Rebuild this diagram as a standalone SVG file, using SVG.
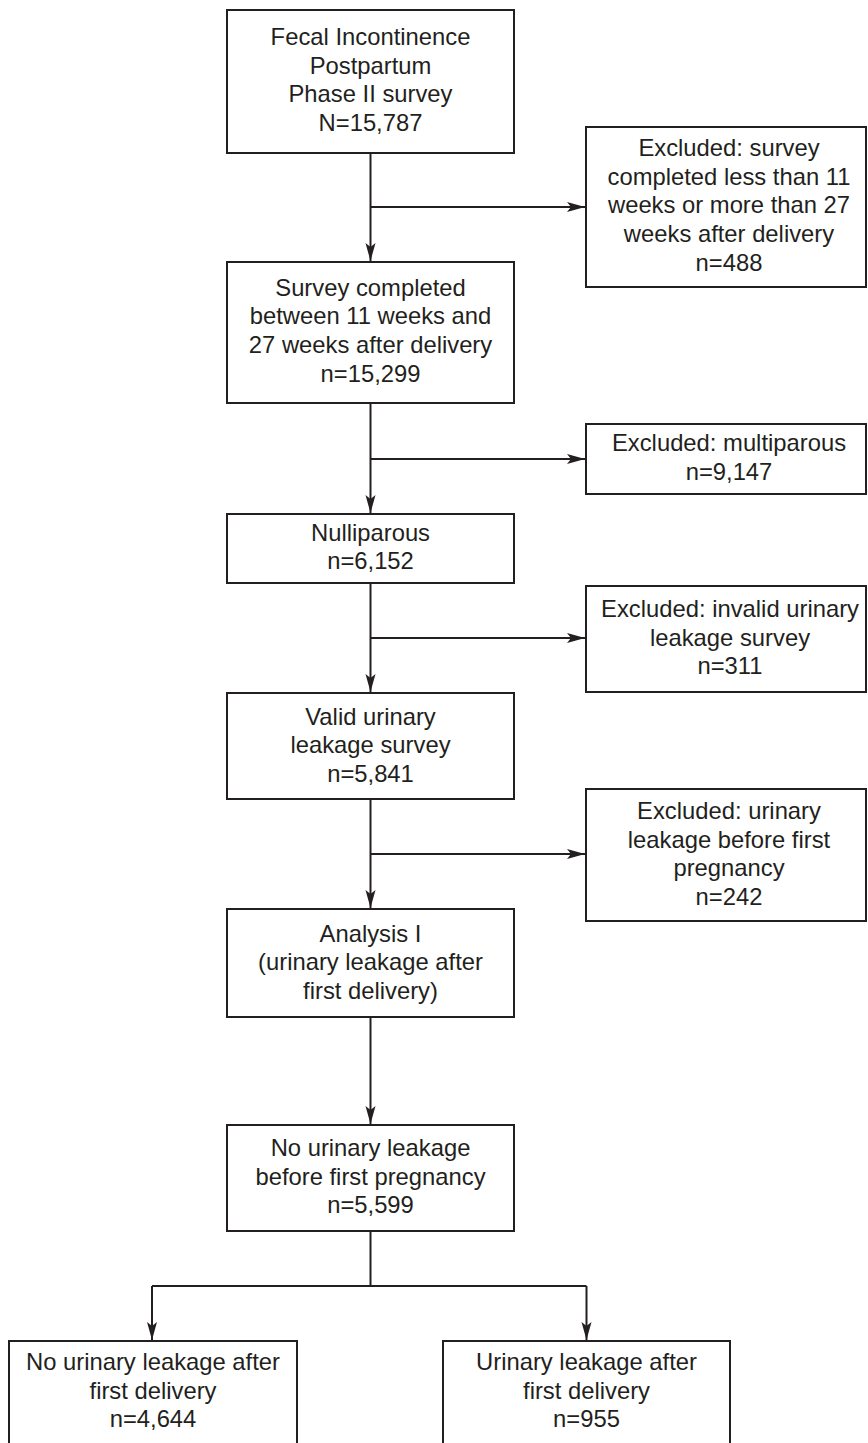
<svg xmlns="http://www.w3.org/2000/svg" width="868" height="1443" viewBox="0 0 868 1443">
<style>
.box{fill:#fff;stroke:#231f20;stroke-width:2}
.t{font-family:"Liberation Sans",Arial,sans-serif;font-size:23.8px;fill:#231f20;text-anchor:middle}
.c{fill:none;stroke:#231f20;stroke-width:2}
</style>
<defs>
<marker id="ah" markerUnits="userSpaceOnUse" markerWidth="20" markerHeight="12" refX="18" refY="5" orient="auto">
<path d="M0,0 L18,5 L0,10 L4,5 z" fill="#231f20"/>
</marker>
</defs>
<rect width="868" height="1443" fill="#fff"/>
<g id="connectors">
<path class="c" d="M370.5,153 V261" marker-end="url(#ah)"/>
<path class="c" d="M370.5,207 H585" marker-end="url(#ah)"/>
<path class="c" d="M370.5,403 V513" marker-end="url(#ah)"/>
<path class="c" d="M370.5,459 H585" marker-end="url(#ah)"/>
<path class="c" d="M370.5,583 V692" marker-end="url(#ah)"/>
<path class="c" d="M370.5,638 H585" marker-end="url(#ah)"/>
<path class="c" d="M370.5,799 V908" marker-end="url(#ah)"/>
<path class="c" d="M370.5,854 H585" marker-end="url(#ah)"/>
<path class="c" d="M370.5,1017 V1124" marker-end="url(#ah)"/>
<path class="c" d="M370.5,1231 V1286"/>
<path class="c" d="M152,1286 H586.5"/>
<path class="c" d="M152,1286 V1340" marker-end="url(#ah)"/>
<path class="c" d="M586.5,1286 V1340" marker-end="url(#ah)"/>
</g>
<g id="n1">
<rect class="box" x="227" y="10" width="287" height="143"/>
<text class="t" x="370.5" y="45">Fecal Incontinence</text>
<text class="t" x="370.5" y="73.7">Postpartum</text>
<text class="t" x="370.5" y="102.4">Phase II survey</text>
<text class="t" x="370.5" y="131.1">N=15,787</text>
</g>
<g id="ex1">
<rect class="box" x="586" y="127" width="280" height="160"/>
<text class="t" x="729" y="156">Excluded: survey</text>
<text class="t" x="729" y="184.7">completed less than 11</text>
<text class="t" x="729" y="213.4">weeks or more than 27</text>
<text class="t" x="729" y="242.1">weeks after delivery</text>
<text class="t" x="729" y="270.8">n=488</text>
</g>
<g id="n2">
<rect class="box" x="227" y="262" width="287" height="141"/>
<text class="t" x="370.5" y="295.5">Survey completed</text>
<text class="t" x="370.5" y="324.2">between 11 weeks and</text>
<text class="t" x="370.5" y="352.9">27 weeks after delivery</text>
<text class="t" x="370.5" y="381.6">n=15,299</text>
</g>
<g id="ex2">
<rect class="box" x="586" y="424" width="280" height="70"/>
<text class="t" x="729" y="451">Excluded: multiparous</text>
<text class="t" x="729" y="479.7">n=9,147</text>
</g>
<g id="n3">
<rect class="box" x="227" y="514" width="287" height="69"/>
<text class="t" x="370.5" y="540.5">Nulliparous</text>
<text class="t" x="370.5" y="569.2">n=6,152</text>
</g>
<g id="ex3">
<rect class="box" x="586" y="586" width="280" height="106"/>
<text class="t" x="730" y="617">Excluded: invalid urinary</text>
<text class="t" x="730" y="645.7">leakage survey</text>
<text class="t" x="730" y="674.4">n=311</text>
</g>
<g id="n4">
<rect class="box" x="227" y="693" width="287" height="106"/>
<text class="t" x="370.5" y="724.5">Valid urinary</text>
<text class="t" x="370.5" y="753.2">leakage survey</text>
<text class="t" x="370.5" y="781.9">n=5,841</text>
</g>
<g id="ex4">
<rect class="box" x="586" y="789" width="280" height="132"/>
<text class="t" x="729" y="819">Excluded: urinary</text>
<text class="t" x="729" y="847.7">leakage before first</text>
<text class="t" x="729" y="876.4">pregnancy</text>
<text class="t" x="729" y="905.1">n=242</text>
</g>
<g id="n5">
<rect class="box" x="227" y="909" width="287" height="108"/>
<text class="t" x="370.5" y="941.5">Analysis I</text>
<text class="t" x="370.5" y="970.2">(urinary leakage after</text>
<text class="t" x="370.5" y="998.9">first delivery)</text>
</g>
<g id="n6">
<rect class="box" x="227" y="1125" width="287" height="106"/>
<text class="t" x="370.5" y="1156">No urinary leakage</text>
<text class="t" x="370.5" y="1184.7">before first pregnancy</text>
<text class="t" x="370.5" y="1213.4">n=5,599</text>
</g>
<g id="n7">
<rect class="box" x="9" y="1341" width="288" height="110"/>
<text class="t" x="153" y="1370">No urinary leakage after</text>
<text class="t" x="153" y="1398.7">first delivery</text>
<text class="t" x="153" y="1427.4">n=4,644</text>
</g>
<g id="n8">
<rect class="box" x="443" y="1341" width="287" height="110"/>
<text class="t" x="586.5" y="1370">Urinary leakage after</text>
<text class="t" x="586.5" y="1398.7">first delivery</text>
<text class="t" x="586.5" y="1427.4">n=955</text>
</g>
</svg>
